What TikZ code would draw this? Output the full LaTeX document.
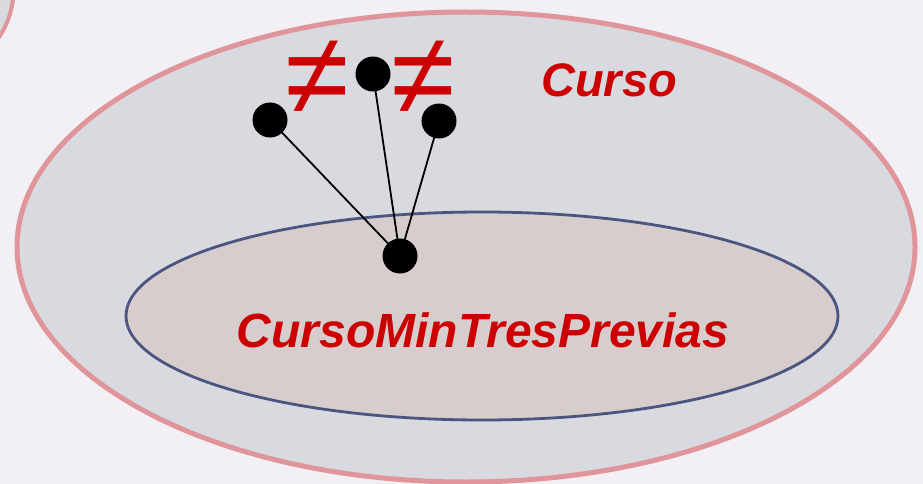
\documentclass[tikz,border=0pt]{standalone}
\usepackage{fontspec}
\setmainfont{Liberation Sans}
\definecolor{bgc}{HTML}{F2F0F5}
\definecolor{outfill}{HTML}{D9D9E0}
\definecolor{outline}{HTML}{E0959A}
\definecolor{infill}{HTML}{D8CDCD}
\definecolor{inline}{HTML}{4A5580}
\definecolor{redtxt}{HTML}{CC0000}
\begin{document}
\begin{tikzpicture}[x=1pt,y=-1pt,
  dot/.style={circle,fill=black,minimum size=35pt,inner sep=0pt},
  lbl/.style={text=redtxt,font=\fontsize{47}{50}\selectfont\bfseries\itshape},
  neq/.style={text=redtxt,font=\fontsize{116}{116}\selectfont,inner sep=0pt},
  link/.style={line width=1.8pt}]
\fill[bgc] (0,0) rectangle (923,484);
\useasboundingbox (0,0) rectangle (923,484);
\begin{scope}
\clip (0,0) rectangle (923,484);
\draw[outline,fill=outfill,line width=4pt] (-70,-10) circle[radius=83.5];
\draw[outline,fill=outfill,line width=5pt] (466,247) ellipse[x radius=449,y radius=235];
\end{scope}
\draw[inline,fill=infill,line width=2.8pt] (482,316) ellipse[x radius=356,y radius=104];
\node[lbl] (curso) at (609,80) {Curso};
\node[lbl,font=\fontsize{48}{50}\selectfont\bfseries\itshape] (cmtp) at (483,330) {CursoMinTresPrevias};
\node[dot] (a) at (270,120) {};
\node[dot] (b) at (373,74) {};
\node[dot] (c) at (439,121) {};
\node[dot] (d) at (400,256) {};
\draw[link] (a.center) -- (d.center);
\draw[link] (b.center) -- (d.center);
\draw[link] (c.center) -- (d.center);
\node[neq] (n1) at (317,78) {≠};
\node[neq] (n2) at (423,78) {≠};
\end{tikzpicture}
\end{document}
